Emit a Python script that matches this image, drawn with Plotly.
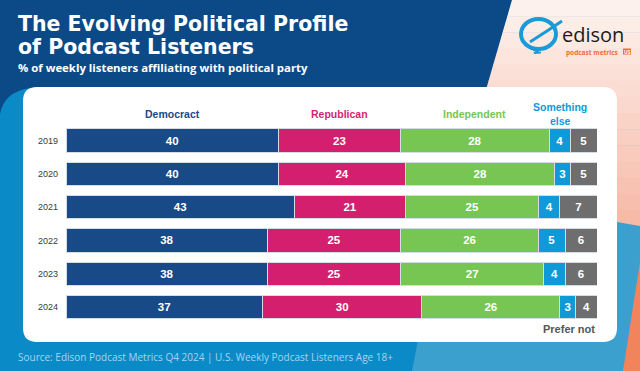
import plotly.graph_objects as go

years = ["2019", "2020", "2021", "2022", "2023", "2024"]
democrat = [40, 40, 43, 38, 38, 37]
republican = [23, 24, 21, 25, 25, 30]
independent = [28, 28, 25, 26, 27, 26]
something_else = [4, 3, 4, 5, 4, 3]
prefer_not = [5, 5, 7, 6, 6, 4]

series = [
    ("Democract", democrat, "#174a87"),
    ("Republican", republican, "#d41f6e"),
    ("Independent", independent, "#77c552"),
    ("Something<br>else", something_else, "#0e9ad8"),
    ("Prefer not", prefer_not, "#6e6e6e"),
]

W, H = 640, 371


def X(px):
    return px / W


def Y(py):
    return 1 - py / H


def path(points, close=True):
    s = "M " + " L ".join(f"{X(a):.5f},{Y(b):.5f}" for a, b in points)
    return s + (" Z" if close else "")


fig = go.Figure()

for name, vals, col in series:
    fig.add_trace(go.Bar(
        y=years, x=vals, name=name, orientation="h",
        marker=dict(color=col, line=dict(color="#d5dbe2", width=1)),
        text=[str(v) for v in vals], textposition="inside",
        insidetextanchor="middle", constraintext="none", textangle=0,
        textfont=dict(family="Liberation Sans", size=11.5, color="white", weight="bold"),
        hoverinfo="skip",
    ))

shapes = []
# dark top band
shapes.append(dict(type="path", xref="paper", yref="paper", layer="below", line_width=0,
                   fillcolor="#0b4a86",
                   path=path([(0, 0), (512, 0), (486, 92), (30, 88)], close=False)
                   + f" Q {X(4):.5f},{Y(92):.5f} {X(0):.5f},{Y(114):.5f} Z"))
# pink gradient region (bands)
n = 14
top_c = (254, 244, 240)
bot_c = (247, 184, 165)
y_end = 226
for i in range(n):
    y0 = y_end * i / n
    y1 = y_end * (i + 1) / n + 0.5
    t = (i + 0.5) / n
    c = tuple(int(top_c[k] + (bot_c[k] - top_c[k]) * t) for k in range(3))
    x0 = 512 - 0.29 * y0
    x1 = 512 - 0.29 * y1
    shapes.append(dict(type="path", xref="paper", yref="paper", layer="below", line_width=0,
                       fillcolor=f"rgb{c}",
                       path=path([(x0, y0), (640, y0), (640, y1), (x1, y1)])))
# light blue region bottom right
shapes.append(dict(type="path", xref="paper", yref="paper", layer="below", line_width=0,
                   fillcolor="#3ba0cd",
                   path=path([(617, 222), (640, 226), (640, 371), (412, 371), (445, 200)])))
# orange strip
shapes.append(dict(type="path", xref="paper", yref="paper", layer="below", line_width=0,
                   fillcolor="#f2845c",
                   path=path([(640, 262), (640, 371), (623, 371)])))
# white card
cx0, cy0, cx1, cy1, r = 23, 87, 617, 342, 14
card = (f"M {X(cx0 + r):.5f},{Y(cy0):.5f} L {X(cx1 - r):.5f},{Y(cy0):.5f} "
        f"Q {X(cx1):.5f},{Y(cy0):.5f} {X(cx1):.5f},{Y(cy0 + r):.5f} "
        f"L {X(cx1):.5f},{Y(cy1 - r):.5f} Q {X(cx1):.5f},{Y(cy1):.5f} {X(cx1 - r):.5f},{Y(cy1):.5f} "
        f"L {X(cx0 + r):.5f},{Y(cy1):.5f} Q {X(cx0):.5f},{Y(cy1):.5f} {X(cx0):.5f},{Y(cy1 - r):.5f} "
        f"L {X(cx0):.5f},{Y(cy0 + r):.5f} Q {X(cx0):.5f},{Y(cy0):.5f} {X(cx0 + r):.5f},{Y(cy0):.5f} Z")
shapes.append(dict(type="path", xref="paper", yref="paper", layer="below", line_width=0,
                   fillcolor="white", path=card))
# logo icon
shapes.append(dict(type="circle", xref="paper", yref="paper", layer="above",
                   x0=X(521), x1=X(556), y0=Y(19), y1=Y(49),
                   line=dict(color="#1a9ad8", width=4)))
shapes.append(dict(type="path", xref="paper", yref="paper", layer="above",
                   line=dict(color="#1a9ad8", width=3),
                   path=path([(530, 42), (547, 31), (562, 21)], close=False)))
shapes.append(dict(type="path", xref="paper", yref="paper", layer="above",
                   line=dict(color="#1a9ad8", width=2),
                   path=path([(533, 50), (541, 49), (534, 53), (541, 52.5)], close=False)))
# US badge
shapes.append(dict(type="rect", xref="paper", yref="paper", layer="above",
                   x0=X(623), x1=X(631), y0=Y(48.5), y1=Y(54.5),
                   fillcolor="#f26b3a", line_width=0))

annotations = []
annotations.append(dict(xref="paper", yref="paper", x=X(16), y=Y(24.5), xanchor="left", yanchor="middle",
                        text="The Evolving Political Profile", showarrow=False,
                        font=dict(family="DejaVu Sans", size=20.5, color="white", weight="bold")))
annotations.append(dict(xref="paper", yref="paper", x=X(16), y=Y(46.5), xanchor="left", yanchor="middle",
                        text="of Podcast Listeners", showarrow=False,
                        font=dict(family="DejaVu Sans", size=20.5, color="white", weight="bold")))
annotations.append(dict(xref="paper", yref="paper", x=X(16), y=Y(67), xanchor="left", yanchor="middle",
                        text="% of weekly listeners affiliating with political party", showarrow=False,
                        font=dict(family="Open Sans", size=11.4, color="white", weight="bold")))
annotations.append(dict(xref="paper", yref="paper", x=X(16), y=Y(357), xanchor="left", yanchor="middle",
                        text="Source: Edison Podcast Metrics Q4 2024 | U.S. Weekly Podcast Listeners Age 18+",
                        showarrow=False,
                        font=dict(family="Open Sans", size=10, color="#a6d3ef")))
annotations.append(dict(xref="paper", yref="paper", x=X(560), y=Y(34), xanchor="left", yanchor="middle",
                        text="edison", showarrow=False,
                        font=dict(family="Open Sans", size=20, color="#1b1b1b")))
annotations.append(dict(xref="paper", yref="paper", x=X(564), y=Y(52), xanchor="left", yanchor="middle",
                        text="podcast metrics", showarrow=False,
                        font=dict(family="Open Sans", size=6.5, color="#f26b3a", weight="bold")))
annotations.append(dict(xref="paper", yref="paper", x=X(627), y=Y(51.5), xanchor="center", yanchor="middle",
                        text="US", showarrow=False,
                        font=dict(family="Open Sans", size=5, color="white", weight="bold")))

# column headers centred on the 2019 segments
cum = 0
for idx, (name, vals, col) in enumerate(series):
    v = vals[0]
    centre = cum + v / 2
    cum += v
    if idx == 4:
        continue
    annotations.append(dict(xref="x", yref="paper", x=centre, y=Y(114), xanchor="center", yanchor="middle",
                            text=name, showarrow=False,
                            font=dict(family="Liberation Sans", size=10.5, color=col, weight="bold")))
annotations.append(dict(xref="x", yref="paper", x=100, y=Y(329), xanchor="right", yanchor="middle",
                        text=series[4][0], showarrow=False,
                        font=dict(family="Liberation Sans", size=11, color="#555555", weight="bold")))

fig.update_layout(
    width=W, height=H, margin=dict(l=0, r=0, t=0, b=0),
    paper_bgcolor="#0a8bc8", plot_bgcolor="rgba(0,0,0,0)",
    barmode="stack", bargap=0.30, showlegend=False,
    shapes=shapes, annotations=annotations,
    xaxis=dict(domain=[X(66), X(597)], range=[0, 100], visible=False, fixedrange=True),
    yaxis=dict(domain=[Y(323.6), Y(123.9)], autorange="reversed", type="category",
               showgrid=False, zeroline=False, showline=False, ticks="",
               ticklabelstandoff=7, fixedrange=True,
               tickfont=dict(family="Liberation Sans", size=9, color="#3a3a3a")),
)

fig.write_html("out.html", config={"displayModeBar": False},
               post_script="document.body.style.margin='0';document.body.style.overflow='hidden';")
